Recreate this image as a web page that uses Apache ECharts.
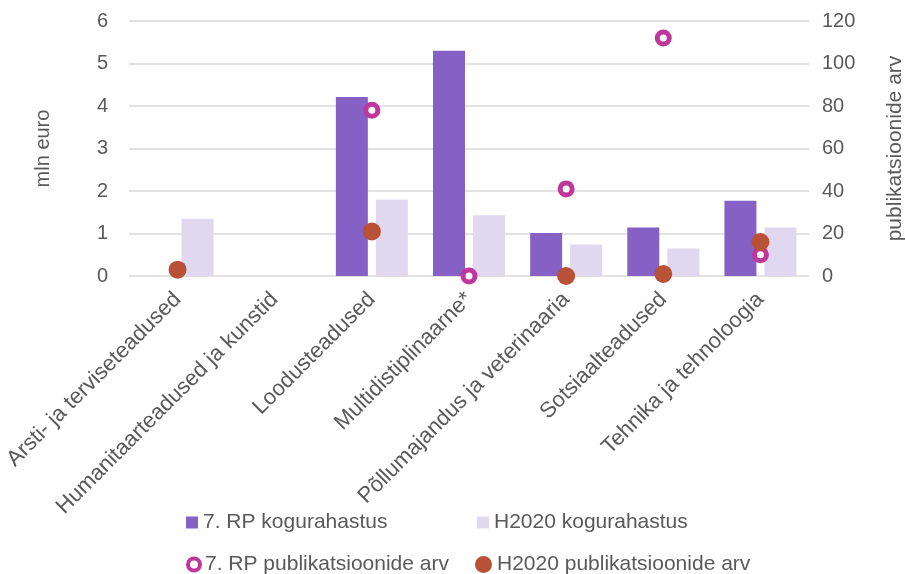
<!DOCTYPE html>
<html><head><meta charset="utf-8">
<script src="https://cdn.jsdelivr.net/npm/echarts@6/dist/echarts.min.js"></script>
<style>html,body{margin:0;padding:0;background:#fff}#c{width:905px;height:574px}</style>
</head><body><div id="c"></div>
<script>
const categories = ['Arsti- ja terviseteadused','Humanitaarteadused ja kunstid','Loodusteadused','Multidistiplinaarne*','Põllumajandus ja veterinaaria','Sotsiaalteadused','Tehnika ja tehnoloogia'];
const rpFunding = [null, null, 4.21, 5.3, 1.01, 1.14, 1.77];
const h2020Funding = [1.35, null, 1.8, 1.43, 0.74, 0.65, 1.14];
const rpPubs = [null, null, 78, 0, 41, 112, 10];
const h2020Pubs = [3, null, 21, null, 0, 1, 16];
const leftTicks = {min: 0, max: 6, interval: 1};
const rightTicks = {min: 0, max: 120, interval: 20};

const FONT = 'Liberation Sans';
const TXT = '#595959';
const RING = '#C0379B';
const BROWN = '#B85135';
const chart = echarts.init(document.getElementById('c'), null, {renderer: 'canvas'});
const legendText = {fontFamily: FONT, fontSize: 21, color: TXT};
chart.setOption({
  animation: false,
  textStyle: {fontFamily: FONT},
  grid: {left: 129, right: 96, top: 21, bottom: 298, containLabel: false, outerBoundsMode: 'none'},
  legend: [
    {left: 181, top: 507, data: [{name: '7. RP kogurahastus', icon: 'rect'}], itemWidth: 12, itemHeight: 12, itemGap: 5, textStyle: legendText},
    {left: 472, top: 507, data: [{name: 'H2020 kogurahastus', icon: 'rect'}], itemWidth: 12, itemHeight: 12, textStyle: legendText},
    {left: 181, top: 549, data: [{name: '7. RP publikatsioonide arv', icon: 'circle', itemStyle: {color: '#fff', borderColor: RING, borderWidth: 4}}], itemWidth: 12, itemHeight: 12, textStyle: legendText},
    {left: 470, top: 549, data: [{name: 'H2020 publikatsioonide arv', icon: 'circle'}], itemWidth: 17, itemHeight: 17, textStyle: legendText}
  ],
  xAxis: {
    type: 'category', data: categories,
    axisLine: {show: false}, axisTick: {show: false},
    axisLabel: {rotate: 45, interval: 0, fontFamily: FONT, fontSize: 22, color: TXT, margin: 20}
  },
  yAxis: [
    {type: 'value', min: leftTicks.min, max: leftTicks.max, interval: leftTicks.interval,
     name: 'mln euro', nameLocation: 'middle', nameGap: 76, nameRotate: 90,
     nameTextStyle: {fontFamily: FONT, fontSize: 20, color: TXT},
     axisLabel: {fontFamily: FONT, fontSize: 20, color: TXT, margin: 21},
     splitLine: {lineStyle: {color: '#D9D9D9', width: 1.5}}},
    {type: 'value', min: rightTicks.min, max: rightTicks.max, interval: rightTicks.interval,
     name: 'publikatsioonide arv', nameLocation: 'middle', nameGap: 76, nameRotate: 90,
     nameTextStyle: {fontFamily: FONT, fontSize: 21, color: TXT},
     axisLabel: {fontFamily: FONT, fontSize: 20, color: TXT, margin: 13},
     splitLine: {show: false}}
  ],
  series: [
    {name: '7. RP kogurahastus', type: 'bar', data: rpFunding, barWidth: 32, barGap: '25%', itemStyle: {color: '#8561C5'}},
    {name: 'H2020 kogurahastus', type: 'bar', data: h2020Funding, barWidth: 32, itemStyle: {color: '#DFD8EF'}},
    {name: '7. RP publikatsioonide arv', type: 'scatter', yAxisIndex: 1, data: rpPubs, symbol: 'circle', symbolSize: 12,
     itemStyle: {color: '#fff', borderColor: RING, borderWidth: 5, opacity: 1}},
    {name: 'H2020 publikatsioonide arv', type: 'scatter', yAxisIndex: 1, data: h2020Pubs, symbol: 'circle', symbolSize: 18,
     itemStyle: {color: BROWN, opacity: 1}}
  ]
});
</script></body></html>
